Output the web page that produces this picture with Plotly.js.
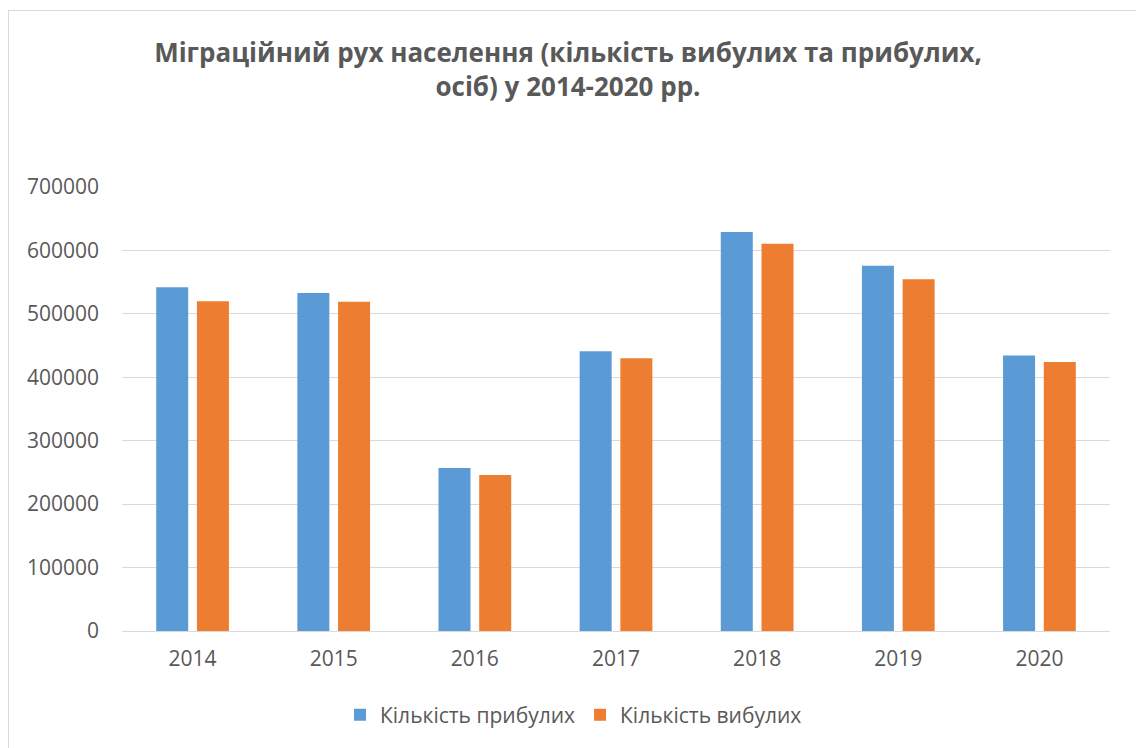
<!DOCTYPE html>
<html>
<head>
<meta charset="utf-8">
<script src="https://cdn.plot.ly/plotly-3.0.1.min.js"></script>
<style>
html,body{margin:0;padding:0;background:#fff;overflow:hidden;}
#frame{position:absolute;left:8px;top:10px;width:1300px;height:900px;border:1px solid #D9D9D9;box-sizing:border-box;}
#chart{position:absolute;left:0;top:0;width:1136px;height:748px;}
</style>
</head>
<body>
<div id="frame"></div>
<div id="chart"></div>
<script>
var years = ['2014','2015','2016','2017','2018','2019','2020'];
var arrived = [542000, 533000, 257000, 441000, 629000, 576000, 434500];
var departed = [520000, 519000, 246000, 430000, 610500, 554500, 424000];
var seriesNames = ['Кількість прибулих', 'Кількість вибулих'];
var yTicks = [0,100000,200000,300000,400000,500000,600000,700000];

var font = 'Open Sans, sans-serif';
var traces = [
  {type:'bar', x:years, y:arrived, name:seriesNames[0], marker:{color:'#5B9BD5'}, hoverinfo:'y'},
  {type:'bar', x:years, y:departed, name:seriesNames[1], marker:{color:'#ED7D31'}, hoverinfo:'y'}
];
var layout = {
  width:1136, height:748,
  paper_bgcolor:'rgba(0,0,0,0)', plot_bgcolor:'rgba(0,0,0,0)',
  margin:{l:122, r:26, t:187, b:117},
  barmode:'group', bargap:0.423, bargroupgap:0.214,
  font:{family:font, color:'#595959', size:21},
  title:{text:'Міграційний рух населення (кількість вибулих та прибулих,<br>осіб) у 2014-2020 рр.',
    font:{family:font, size:26, color:'#595959', weight:'bold'},
    x:0.5, xanchor:'center', xref:'container', y:1-62/748, yanchor:'top', yref:'container'},
  xaxis:{type:'category', tickfont:{size:21, color:'#595959'}, showgrid:false, zeroline:false,
    showline:false, ticks:'', ticklabelstandoff:13},
  yaxis:{range:[0,700000], tickvals:yTicks, ticktext:yTicks.map(String), tickfont:{size:21, color:'#595959'},
    gridcolor:'#D9D9D9', gridwidth:1, zeroline:true, zerolinecolor:'#D9D9D9', zerolinewidth:1,
    showline:false, ticks:'', ticklabelstandoff:22},
  legend:{orientation:'h', x:0.457, xanchor:'center', xref:'paper', y:1-715/748, yanchor:'middle', yref:'container',
    font:{size:21, color:'#595959'}, itemwidth:30, traceorder:'normal'},
  showlegend:true
};
Plotly.newPlot('chart', traces, layout, {displayModeBar:false, staticPlot:true});
</script>
</body>
</html>
